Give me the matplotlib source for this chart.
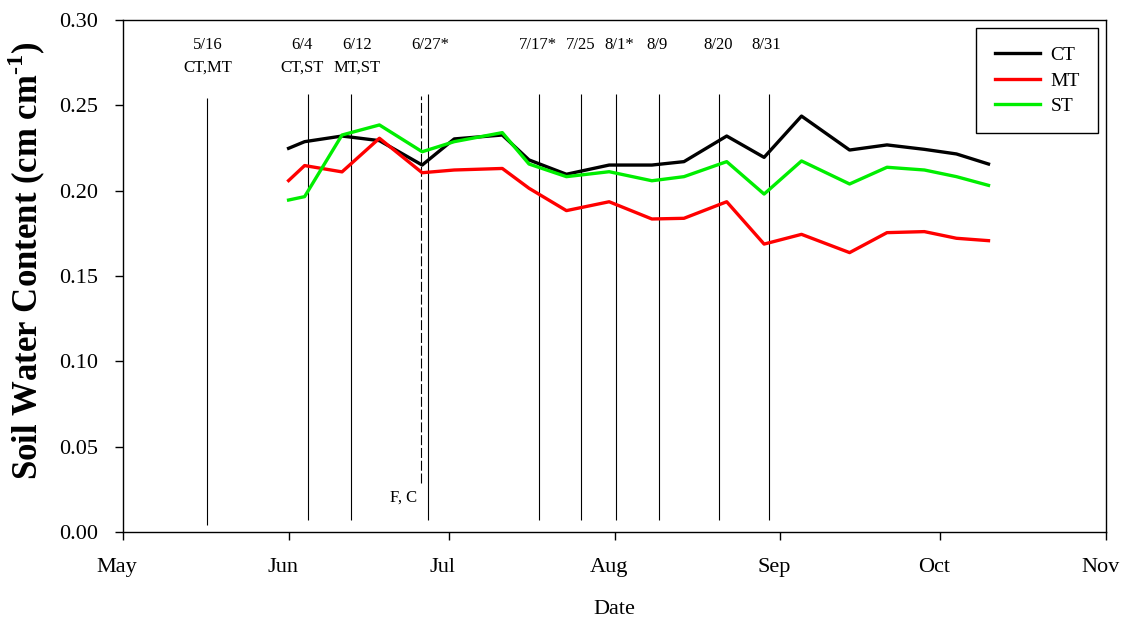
#!/usr/bin/env python3

import datetime as dt
import matplotlib
matplotlib.use("Agg")
import matplotlib.pyplot as plt
import matplotlib.dates as mdates
import matplotlib.transforms as mtransforms


YEAR = 2013

# sampling dates (month, day)
sample_dates = [(6, 1), (6, 4), (6, 11), (6, 18), (6, 26), (7, 2), (7, 11), (7, 16),
                (7, 23), (7, 31), (8, 8), (8, 14), (8, 22), (8, 29), (9, 5), (9, 14),
                (9, 21), (9, 28), (10, 4), (10, 10)]

ct = [0.2248, 0.2287, 0.2320, 0.2293, 0.2150, 0.2303, 0.2326, 0.2180, 0.2096, 0.2150,
      0.2150, 0.2170, 0.2320, 0.2195, 0.2437, 0.2238, 0.2268, 0.2242, 0.2215, 0.2156]
mt = [0.2059, 0.2147, 0.2110, 0.2307, 0.2105, 0.2121, 0.2130, 0.2014, 0.1883, 0.1935,
      0.1834, 0.1838, 0.1935, 0.1687, 0.1744, 0.1637, 0.1754, 0.1760, 0.1721, 0.1707]
st = [0.1945, 0.1965, 0.2326, 0.2385, 0.2228, 0.2287, 0.2340, 0.2156, 0.2082, 0.2111,
      0.2058, 0.2082, 0.2170, 0.1980, 0.2174, 0.2039, 0.2137, 0.2121, 0.2082, 0.2031]

# management events as drawn on the chart: (month, day, hour), label, second label
event_dates = [(5, 16, 16), (6, 4, 17), (6, 12, 17), (6, 27, 2), (7, 17, 22),
               (7, 25, 19), (8, 1, 7), (8, 9, 10), (8, 20, 12), (8, 30, 0)]
event_labels = ["5/16", "6/4", "6/12", "6/27*", "7/17*", "7/25", "8/1*", "8/9", "8/20", "8/31"]
event_sublabels = ["CT,MT", "CT,ST", "MT,ST", "", "", "", "", "", "", ""]
label_shift_px = [1, -6, 6, 2, -1, -1, 3, -2, -1, -3]

fc_date = (6, 25, 18)  # dashed line
fc_label = "F, C"

month_ticks = [(5, 1), (6, 1), (7, 1), (8, 1), (9, 1), (10, 1), (11, 1)]
month_names = ["May", "Jun", "Jul", "Aug", "Sep", "Oct", "Nov"]
y_ticks = [0, 0.05, 0.10, 0.15, 0.20, 0.25, 0.30]


def d(md):
    hour = md[2] if len(md) > 2 else 0
    return dt.datetime(YEAR, md[0], md[1], hour)


def main():
    plt.rcParams["font.family"] = ["Liberation Serif", "DejaVu Serif"]
    plt.rcParams["mathtext.fontset"] = "custom"
    plt.rcParams["mathtext.rm"] = "Liberation Serif"
    plt.rcParams["mathtext.bf"] = "Liberation Serif:bold"
    fig = plt.figure(figsize=(11.23, 6.24), dpi=100)
    ax = fig.add_axes([0.1095, 0.1474, 0.9849 - 0.1095, 0.968 - 0.1474])

    x = [d(m) for m in sample_dates]
    ax.plot(x, ct, color="black", lw=2.4, label="CT", zorder=3)
    ax.plot(x, mt, color="#ff0000", lw=2.4, label="MT", zorder=3)
    ax.plot(x, st, color="#00ee00", lw=2.4, label="ST", zorder=3)

    for md, lab, sub, sh in zip(event_dates, event_labels, event_sublabels, label_shift_px):
        xd = d(md)
        top = 0.254 if md[0] == 5 else 0.2565
        bot = 0.004 if md[0] == 5 else 0.007
        ax.vlines(xd, bot, top, color="black", lw=0.8, zorder=2)
        ax.annotate(lab, (mdates.date2num(xd), 0.2855), xytext=(sh, 0),
                    textcoords="offset pixels", ha="center", va="center", fontsize=12)
        if sub:
            ax.annotate(sub, (mdates.date2num(xd), 0.2718), xytext=(sh, 0),
                        textcoords="offset pixels", ha="center", va="center", fontsize=12)

    xfc = d(fc_date)
    ax.vlines(xfc, 0.029, 0.2555, color="black", lw=0.8, linestyles=(0, (9, 2.5)), zorder=2)
    ax.annotate(fc_label, (mdates.date2num(xfc), 0.0200), xytext=(-4, 0),
                textcoords="offset pixels", ha="right", va="center", fontsize=12)

    ax.set_xlim(d(month_ticks[0]), d(month_ticks[-1]))
    ax.set_xticks([d(m) for m in month_ticks])
    ax.set_xticklabels(month_names)
    ax.set_ylim(0, 0.30)
    ax.set_yticks(y_ticks)
    ax.set_yticklabels(["%.2f" % v for v in y_ticks])
    ax.tick_params(direction="out", length=6, width=1, labelsize=16, top=False, right=False)
    ax.tick_params(axis="y", pad=12)
    ax.tick_params(axis="x", pad=13)
    shift = mtransforms.ScaledTranslation(-6 / 100, 0, fig.dpi_scale_trans)
    for lbl in ax.get_xticklabels():
        lbl.set_transform(lbl.get_transform() + shift)
    for s in ax.spines.values():
        s.set_linewidth(1.0)

    ax.set_xlabel("Date", fontsize=16, labelpad=16)
    ax.set_ylabel("Soil Water Content (cm cm$^{\\text{-}\\mathbf{1}}$)",
                  fontsize=25, fontweight="bold")
    ax.yaxis.set_label_coords(-0.076, 0.531)

    leg = ax.legend(loc="upper right", fontsize=14, fancybox=False, edgecolor="black",
                    framealpha=1, handlelength=2.3, handletextpad=0.55, borderpad=0.95,
                    labelspacing=0.4, borderaxespad=0, bbox_to_anchor=(0.992, 0.984))
    leg.get_frame().set_linewidth(1.0)

    fig.savefig("out.png", dpi=100)


if __name__ == "__main__":
    main()
